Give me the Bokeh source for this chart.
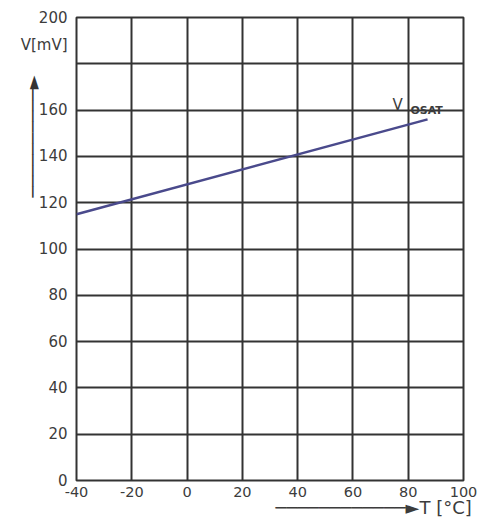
from bokeh.plotting import figure
from bokeh.models import Label, FixedTicker, LinearAxis
from bokeh.embed import file_html
from bokeh.resources import INLINE

# data
temps = [-40, 87]
vosat = [115, 156]
x_ticks = [-40, -20, 0, 20, 40, 60, 80, 100]
y_ticks = [0, 20, 40, 60, 80, 100, 120, 140, 160, 180, 200]
y_title_pos = 188
x_title_pos = 67.5
y_title = "V[mV]"
x_title = "T [°C]"

FONT = "DejaVu Sans"
TXT = "#3c3c3c"
GRID = "#333333"
ARROW_X = "\u2500" * 12 + "\u25ba"
ARROW_Y = "\u2003" * 12 + "\u2002" + "\u2500" * 10 + "\u25ba"

p = figure(width=478, height=522, x_range=(-40, 100), y_range=(0, 200),
           output_backend="svg", toolbar_location=None,
           min_border_left=76, min_border_right=15, min_border_top=17, min_border_bottom=42)
p.background_fill_color = "white"
p.border_fill_color = "white"
p.outline_line_color = GRID
p.outline_line_width = 2

def style_axis(ax, size):
    ax.axis_line_color = None
    ax.major_tick_line_color = None
    ax.minor_tick_line_color = None
    ax.major_tick_out = 0
    ax.major_tick_in = 0
    ax.major_label_text_font = FONT
    ax.major_label_text_font_size = size
    ax.major_label_text_color = TXT

xa = p.xaxis[0]
ya = p.yaxis[0]
style_axis(xa, "14.5px")
style_axis(ya, "15px")
xa.ticker = FixedTicker(ticks=x_ticks)
xa.major_label_overrides = {-40: "-40", -20: "-20"}
xa.major_label_standoff = 6
ya.ticker = FixedTicker(ticks=y_ticks + [y_title_pos])
ya.major_label_overrides = {180: "", y_title_pos: y_title}
ya.major_label_standoff = 9
# upward arrow drawn as the axis label
ya.axis_label = ARROW_Y
ya.axis_label_text_font = FONT
ya.axis_label_text_font_size = "18px"
ya.axis_label_text_font_style = "normal"
ya.axis_label_text_color = "#333333"
ya.axis_label_standoff = -25

# second bottom axis carrying the arrow and x title
xt = LinearAxis(ticker=FixedTicker(ticks=[x_title_pos]),
                major_label_overrides={x_title_pos: ARROW_X + x_title})
style_axis(xt, "18px")
xt.major_label_standoff = -3
p.add_layout(xt, "below")

p.xgrid.ticker = FixedTicker(ticks=x_ticks)
p.ygrid.ticker = FixedTicker(ticks=y_ticks)
for g in (p.xgrid[0], p.ygrid[0]):
    g.grid_line_color = GRID
    g.grid_line_width = 2
    g.grid_line_alpha = 1.0

p.line(temps, vosat, line_color="#4a4a8c", line_width=2.5)

p.add_layout(Label(x=74.3, y=162.3, text="V", text_font=FONT, text_font_size="15px",
                   text_color=TXT, text_baseline="alphabetic"))
p.add_layout(Label(x=80.8, y=159.8, text="OSAT", text_font=FONT, text_font_size="11px",
                   text_font_style="bold", text_color=TXT, text_baseline="alphabetic"))

open("out.html", "w").write(file_html(p, INLINE))
